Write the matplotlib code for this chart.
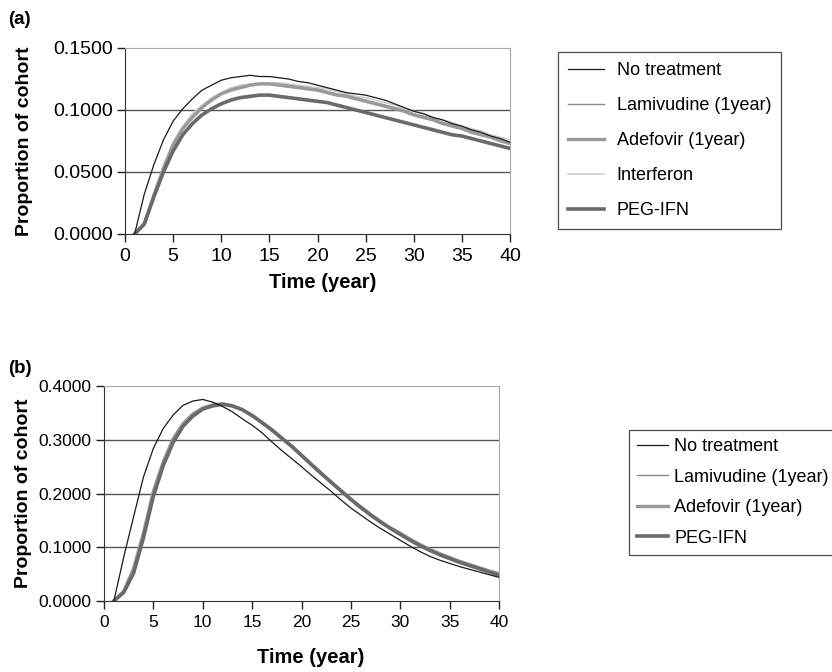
import matplotlib
matplotlib.use("Agg")
import matplotlib.pyplot as plt
import numpy as np

plt.rcParams['font.family'] = ['Liberation Sans', 'DejaVu Sans']

years = list(range(1, 41))

# Panel (a)
a_none = [0.000, 0.032, 0.056, 0.076, 0.091, 0.101, 0.109, 0.116, 0.120, 0.124,
          0.126, 0.127, 0.128, 0.127, 0.127, 0.126, 0.125, 0.123, 0.122, 0.120,
          0.118, 0.116, 0.114, 0.113, 0.112, 0.110, 0.108, 0.105, 0.102, 0.099,
          0.097, 0.094, 0.092, 0.089, 0.087, 0.084, 0.082, 0.079, 0.077, 0.074]
a_lam = [0.000, 0.008, 0.032, 0.054, 0.073, 0.086, 0.095, 0.103, 0.109, 0.113,
         0.117, 0.119, 0.120, 0.121, 0.121, 0.121, 0.120, 0.119, 0.118, 0.117,
         0.115, 0.113, 0.112, 0.110, 0.108, 0.106, 0.104, 0.102, 0.100, 0.097,
         0.095, 0.093, 0.090, 0.088, 0.086, 0.083, 0.081, 0.079, 0.076, 0.074]
a_ade = [0.000, 0.008, 0.031, 0.053, 0.072, 0.085, 0.094, 0.102, 0.108, 0.113,
         0.116, 0.118, 0.120, 0.121, 0.121, 0.120, 0.119, 0.118, 0.117, 0.116,
         0.114, 0.112, 0.111, 0.109, 0.107, 0.105, 0.103, 0.101, 0.099, 0.096,
         0.094, 0.092, 0.089, 0.087, 0.085, 0.082, 0.080, 0.078, 0.075, 0.073]
a_ifn = [0.000, 0.009, 0.033, 0.055, 0.074, 0.087, 0.097, 0.104, 0.110, 0.114,
         0.118, 0.120, 0.121, 0.122, 0.122, 0.122, 0.121, 0.120, 0.119, 0.118,
         0.117, 0.115, 0.113, 0.111, 0.110, 0.108, 0.106, 0.104, 0.101, 0.099,
         0.097, 0.094, 0.092, 0.090, 0.087, 0.085, 0.083, 0.080, 0.078, 0.076]
a_peg = [0.000, 0.008, 0.030, 0.050, 0.067, 0.080, 0.089, 0.096, 0.101, 0.105,
         0.108, 0.110, 0.111, 0.112, 0.112, 0.111, 0.110, 0.109, 0.108, 0.107,
         0.106, 0.104, 0.102, 0.100, 0.098, 0.096, 0.094, 0.092, 0.090, 0.088,
         0.086, 0.084, 0.082, 0.080, 0.079, 0.077, 0.075, 0.073, 0.071, 0.069]

# Panel (b)
b_none = [0.000, 0.082, 0.157, 0.231, 0.284, 0.321, 0.346, 0.364, 0.372, 0.375,
          0.370, 0.362, 0.352, 0.339, 0.327, 0.313, 0.296, 0.280, 0.265, 0.250,
          0.234, 0.219, 0.204, 0.188, 0.173, 0.160, 0.147, 0.135, 0.124, 0.113,
          0.102, 0.092, 0.083, 0.076, 0.070, 0.064, 0.059, 0.054, 0.049, 0.044]
b_lam = [0.000, 0.018, 0.060, 0.125, 0.202, 0.257, 0.300, 0.328, 0.346, 0.358,
         0.364, 0.366, 0.362, 0.355, 0.344, 0.331, 0.318, 0.302, 0.287, 0.270,
         0.253, 0.237, 0.220, 0.204, 0.188, 0.174, 0.160, 0.147, 0.135, 0.125,
         0.114, 0.104, 0.095, 0.087, 0.080, 0.073, 0.067, 0.061, 0.055, 0.050]
b_ade = [0.000, 0.018, 0.061, 0.127, 0.204, 0.259, 0.302, 0.330, 0.348, 0.359,
         0.365, 0.367, 0.363, 0.356, 0.345, 0.332, 0.319, 0.303, 0.288, 0.271,
         0.254, 0.238, 0.221, 0.205, 0.189, 0.175, 0.161, 0.148, 0.136, 0.126,
         0.115, 0.105, 0.096, 0.088, 0.081, 0.074, 0.068, 0.062, 0.056, 0.051]
b_peg = [0.000, 0.016, 0.052, 0.118, 0.195, 0.252, 0.295, 0.325, 0.344, 0.357,
         0.363, 0.366, 0.363, 0.356, 0.345, 0.332, 0.318, 0.303, 0.288, 0.271,
         0.254, 0.237, 0.221, 0.205, 0.189, 0.174, 0.160, 0.147, 0.135, 0.124,
         0.113, 0.103, 0.094, 0.086, 0.079, 0.072, 0.066, 0.060, 0.054, 0.048]

labels_a = ["No treatment", "Lamivudine (1year)", "Adefovir (1year)", "Interferon", "PEG-IFN"]
labels_b = ["No treatment", "Lamivudine (1year)", "Adefovir (1year)", "PEG-IFN"]

styles = {
    "No treatment": dict(color="#1a1a1a", lw=0.9),
    "Lamivudine (1year)": dict(color="#8a8a8a", lw=1.0),
    "Adefovir (1year)": dict(color="#9a9a9a", lw=2.4),
    "Interferon": dict(color="#cccccc", lw=1.1),
    "PEG-IFN": dict(color="#6a6a6a", lw=2.6),
}

W, H = 832, 672
fig = plt.figure(figsize=(W / 100, H / 100), dpi=100)


def px_axes(x0, x1, y0, y1):
    return [x0 / W, 1 - y1 / H, (x1 - x0) / W, (y1 - y0) / H]


def style_axes(ax, ymax, yticks, ylab_x, xlab_xy, tsize):
    ax.set_xlim(0, 40)
    ax.set_ylim(0, ymax)
    ax.set_xticks(range(0, 41, 5))
    ax.set_yticks(yticks)
    ax.set_yticklabels([f"{v:.4f}" for v in yticks])
    for v in yticks[1:-1]:
        ax.axhline(v, color="#555555", lw=1.0, zorder=0)
    ax.spines['left'].set_color('#333333')
    ax.spines['bottom'].set_color('#333333')
    ax.spines['top'].set_color('#aaaaaa')
    ax.spines['right'].set_color('#aaaaaa')
    ax.tick_params(axis='both', direction='out', length=6, width=1,
                   labelsize=tsize, colors='#222222', labelcolor='black')
    ax.tick_params(axis='y', pad=3)
    ax.tick_params(axis='x', pad=4)
    ax.set_xlabel("Time (year)", fontsize=14.5, fontweight='bold')
    ax.set_ylabel("Proportion of cohort", fontsize=14, fontweight='bold')
    ax.yaxis.set_label_coords(ylab_x, 0.5)
    ax.xaxis.set_label_coords(*xlab_xy)


# Panel (a)
ax1 = fig.add_axes(px_axes(125, 510, 48, 234))
series_a = [a_none, a_lam, a_ade, a_ifn, a_peg]
lines_a = {}
for i in [1, 3, 2, 4, 0]:
    ln, = ax1.plot(years, series_a[i], label=labels_a[i], **styles[labels_a[i]])
    lines_a[labels_a[i]] = ln
style_axes(ax1, 0.15, [0.0, 0.05, 0.10, 0.15], (33 - 125) / 385,
           (0.514, (234 - 273) / 186), 14)
leg1 = fig.legend([lines_a[l] for l in labels_a], labels_a,
                  loc='upper left', bbox_to_anchor=(558 / W, 1 - 52 / H),
                  fontsize=13, frameon=True, fancybox=False, edgecolor='#222222',
                  handlelength=2.0, labelspacing=1.0, borderpad=0.55,
                  handletextpad=0.7, borderaxespad=0)
leg1.get_frame().set_linewidth(0.9)
fig.text(8 / W, 1 - 20 / H, "(a)", fontsize=13.5, fontweight='bold', va='center')

# Panel (b)
ax2 = fig.add_axes(px_axes(104, 499, 386, 601))
series_b = [b_none, b_lam, b_ade, b_peg]
lines_b = {}
for i in [1, 2, 3, 0]:
    ln, = ax2.plot(years, series_b[i], label=labels_b[i], **styles[labels_b[i]])
    lines_b[labels_b[i]] = ln
style_axes(ax2, 0.4, [0.0, 0.1, 0.2, 0.3, 0.4], (32 - 104) / 395,
           (0.524, (601 - 648) / 215), 12.5)
leg2 = fig.legend([lines_b[l] for l in labels_b], labels_b,
                  loc='upper left', bbox_to_anchor=(629 / W, 1 - 430 / H),
                  fontsize=13, frameon=True, fancybox=False, edgecolor='#222222',
                  handlelength=1.7, labelspacing=0.75, borderpad=0.45,
                  handletextpad=0.35, borderaxespad=0)
leg2.get_frame().set_linewidth(0.9)
fig.text(8 / W, 1 - 368 / H, "(b)", fontsize=13.5, fontweight='bold', va='center')

fig.savefig("out.png", dpi=100)
